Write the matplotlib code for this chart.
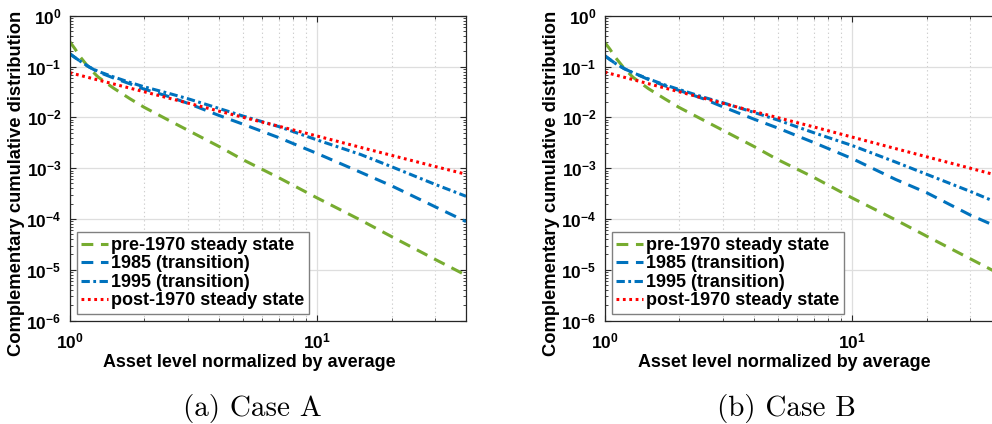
import numpy as np
import matplotlib
matplotlib.use("Agg")
import matplotlib.pyplot as plt
from matplotlib.ticker import LogLocator, NullFormatter

plt.rcParams['font.family'] = ['Liberation Sans', 'DejaVu Sans']
plt.rcParams['font.weight'] = 'bold'
plt.rcParams['axes.labelweight'] = 'bold'
plt.rcParams['lines.scale_dashes'] = False

# values (asset level vs complementary CDF)
x_grid = [1, 1.05, 1.1, 1.2, 1.3, 1.5, 1.75, 2, 2.5, 3, 4, 5, 7, 10, 15, 20, 30, 40]

pre_a = [0.31, 0.224, 0.158, 0.093, 0.063, 0.038, 0.0234, 0.0158, 0.0089, 0.0056,
         0.0027, 0.00148, 6.5e-4, 2.6e-4, 9.5e-5, 4.5e-5, 1.6e-5, 7.8e-6]
y1985_a = [0.18, 0.151, 0.129, 0.098, 0.079, 0.060, 0.046, 0.036, 0.026, 0.019,
           0.011, 0.0074, 0.0040, 0.00195, 8.3e-4, 4.5e-4, 1.74e-4, 8.9e-5]
y1995_a = [0.18, 0.151, 0.129, 0.098, 0.081, 0.063, 0.049, 0.040, 0.030, 0.0234,
           0.0151, 0.0107, 0.0066, 0.0036, 0.00186, 0.00107, 4.8e-4, 2.8e-4]

pre_b = [0.30, 0.22, 0.156, 0.092, 0.062, 0.037, 0.0232, 0.0157, 0.0089, 0.0056,
         0.0027, 0.00148, 6.6e-4, 2.6e-4, 9.6e-5, 4.6e-5, 1.65e-5, 8.0e-6]
y1985_b = [0.164, 0.138, 0.117, 0.091, 0.076, 0.056, 0.042, 0.034, 0.0234, 0.0162,
           0.0093, 0.0062, 0.0032, 0.00155, 6.0e-4, 3.3e-4, 1.2e-4, 6.5e-5]
y1995_b = [0.164, 0.138, 0.117, 0.091, 0.076, 0.0575, 0.0437, 0.0355, 0.0251, 0.0195,
           0.0126, 0.0089, 0.0050, 0.0028, 0.00132, 7.6e-4, 3.5e-4, 1.95e-4]

x_post = [1, 1.5, 2, 3, 5, 7, 10, 15, 20, 30, 40]
post_a = [0.076, 0.0457, 0.032, 0.0192, 0.0101, 0.0067, 0.0043, 0.00257, 0.00179, 0.00108, 7.6e-4]
post_b = [0.078, 0.0462, 0.032, 0.019, 0.0099, 0.0065, 0.0041, 0.00243, 0.00168, 0.0010, 6.9e-4]

labels = ['pre-1970 steady state', '1985 (transition)', '1995 (transition)', 'post-1970 steady state']
green = '#77AC30'
blue = '#0072BD'
red = '#FF0000'


def draw_panel(ax, pre, y1985, y1995, post):
    ax.loglog(x_grid, pre, color=green, lw=2.2, dashes=(8.5, 5.5), label=labels[0])
    ax.loglog(x_grid, y1985, color=blue, lw=2.2, dashes=(8.5, 5.5), label=labels[1])
    ax.loglog(x_grid, y1995, color=blue, lw=2.2, dashes=(6, 2.5, 2, 2.5), label=labels[2])
    ax.loglog(x_post, post, color=red, lw=2.2, dashes=(2, 2.6), label=labels[3])
    ax.set_xlim(1, 40)
    ax.set_ylim(1e-6, 1)
    ax.yaxis.set_major_locator(LogLocator(base=10, numticks=10))
    ax.yaxis.set_minor_locator(LogLocator(base=10, subs=np.arange(2, 10), numticks=20))
    ax.xaxis.set_minor_formatter(NullFormatter())
    ax.yaxis.set_minor_formatter(NullFormatter())
    ax.grid(True, which='major', color='#dedede', lw=0.9, ls='-')
    ax.grid(True, which='minor', axis='x', color='#cfcfcf', lw=0.8, ls=(0, (1, 2)))
    ax.set_axisbelow(True)
    ax.tick_params(which='both', direction='in', top=True, right=True, color='#262626',
                   labelsize=12.5, pad=6)
    ax.tick_params(axis='x', pad=8)
    ax.tick_params(which='major', length=4.5)
    ax.tick_params(which='minor', length=2.5)
    for s in ax.spines.values():
        s.set_color('#262626')
        s.set_linewidth(0.9)
    ax.set_xlabel('Asset level normalized by average', fontsize=12.9)
    ax.set_ylabel('Complementary cumulative distribution', fontsize=13.2)
    ax.xaxis.set_label_coords(0.452, -0.11, transform=ax.transAxes)
    ax.yaxis.set_label_coords(-0.113, 0.45, transform=ax.transAxes)
    leg = ax.legend(loc='lower left', bbox_to_anchor=(0.018, 0.022), fontsize=13,
                    handlelength=1.5, handletextpad=0.15, labelspacing=0.08,
                    borderpad=0.25, borderaxespad=0, fancybox=False, framealpha=1)
    leg.get_frame().set_edgecolor('#808080')
    leg.get_frame().set_linewidth(1.0)


fig = plt.figure(figsize=(9.92, 4.24), dpi=100)
ax_a = fig.add_axes([0.0703, 0.244, 0.3995, 0.7186])
ax_b = fig.add_axes([0.6096, 0.244, 0.3995, 0.7186])
draw_panel(ax_a, pre_a, y1985_a, y1995_a, post_a)
draw_panel(ax_b, pre_b, y1985_b, y1995_b, post_b)

fig.text(0.254, 0.037, '(a) Case A', fontfamily='cmr10', fontweight='normal',
         fontsize=21, ha='center', va='center')
fig.text(0.793, 0.037, '(b) Case B', fontfamily='cmr10', fontweight='normal',
         fontsize=21, ha='center', va='center')

fig.savefig('out.png', dpi=100)
